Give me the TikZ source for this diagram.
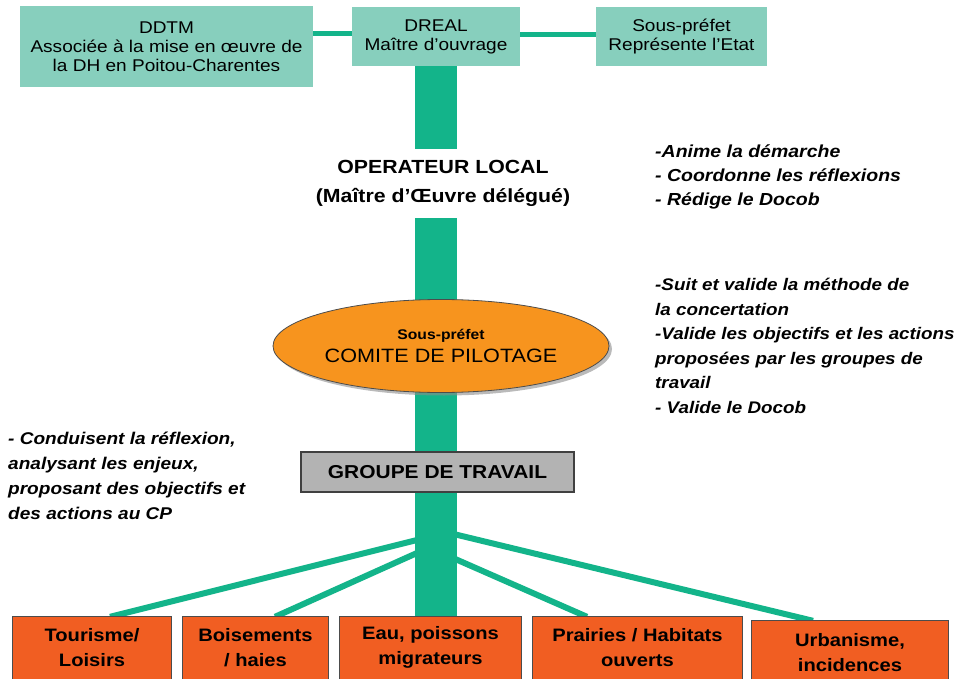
\documentclass[tikz,border=0pt]{standalone}
\usepackage{fontspec}
\setmainfont{Liberation Sans}[FakeStretch=1.12]
\usetikzlibrary{shapes.geometric,shadows}
\pgfdeclarelayer{bg}
\pgfsetlayers{bg,main}
\definecolor{tealbox}{HTML}{87CFBD}
\definecolor{linkgreen}{HTML}{13B48A}
\definecolor{ellorange}{HTML}{F7941E}
\definecolor{boxorange}{HTML}{F15E22}
\definecolor{groupgray}{HTML}{B3B3B3}
\begin{document}
\begin{tikzpicture}[x=1pt,y=-1pt,
  topbox/.style={fill=tealbox, inner sep=0pt, align=center, font=\fontsize{17}{19}\selectfont},
  link/.style={draw=linkgreen, line width=5pt},
  trunkline/.style={draw=linkgreen, line width=42pt},
  branch/.style={draw=linkgreen, line width=6pt},
  obox/.style={fill=boxorange, inner sep=0pt, minimum height=73pt},
  oborder/.style={draw=black!70, line width=1.2pt},
  otext/.style={align=center, font=\fontsize{18}{25}\selectfont\bfseries, inner sep=0pt},
  note/.style={align=left, font=\fontsize{16.8}{24.5}\selectfont\bfseries\itshape, inner sep=0pt, anchor=base west},
]
\path[use as bounding box] (0,0) rectangle (961,679);
\clip (0,0) rectangle (961,679);

% top boxes
\node[topbox, minimum width=293pt, minimum height=81pt] (ddtm) at (166.5,46.5) {DDTM\\Associée à la mise en œuvre de\\la DH en Poitou-Charentes};
\node[topbox, minimum width=168pt, minimum height=59pt] (dreal) at (436,36.5) {DREAL\\Maître d’ouvrage};
\node[topbox, minimum width=171pt, minimum height=59pt] (sp) at (681.5,36.5) {Sous-préfet\\Représente l’Etat};

% operateur
\node[fill=white, inner sep=0pt, minimum height=69pt, minimum width=240pt, align=center, font=\fontsize{19}{29}\selectfont\bfseries] (oper) at (443,183.5) {OPERATEUR LOCAL\\(Maître d’Œuvre délégué)};

% comite
\node[ellipse, fill=ellorange, draw=black!70, line width=0.8pt, minimum width=336pt, minimum height=93pt, inner sep=0pt, align=center, font=\fontsize{19.3}{23}\selectfont, drop shadow={shadow xshift=3pt, shadow yshift=-3pt, fill=black!45, opacity=0.6}] (copil) at (441,346) {{\fontsize{14}{16}\selectfont\bfseries Sous-préfet}\\COMITE DE PILOTAGE};

% groupe
\node[fill=groupgray, draw=black!75, line width=1.2pt, minimum width=273pt, minimum height=40pt, inner sep=0pt, font=\fontsize{18.7}{20}\selectfont\bfseries] (gt) at (437.5,472) {GROUPE DE TRAVAIL};

% bottom boxes
\node[obox, minimum width=158pt] (tour) at (92,653.5) {};
\node[obox, minimum width=145pt] (bois) at (255.5,653.5) {};
\node[obox, minimum width=181pt] (eau) at (430.5,653.5) {};
\node[obox, minimum width=209pt] (prai) at (637.5,653.5) {};
\node[obox, minimum width=196pt] (urba) at (850,657.5) {};
\foreach \b in {tour,bois,eau,prai,urba}{
  \draw[oborder] (\b.south west) -- (\b.north west) -- (\b.north east) -- (\b.south east);
}
\node[otext] (tourT) at ([yshift=6]tour.center) {Tourisme/\\Loisirs};
\node[otext] (boisT) at ([yshift=6]bois.center) {Boisements\\/ haies};
\node[otext] (eauT) at ([yshift=6]eau.center) {Eau, poissons\\migrateurs};
\node[otext] (praiT) at ([yshift=6]prai.center) {Prairies / Habitats\\ouverts};
\node[otext] (urbaT) at ([yshift=4.5]urba.center) {Urbanisme,\\incidences};

% notes (anchor = baseline of last line)
\node[note, font=\fontsize{17.4}{24}\selectfont\bfseries\itshape] (n1) at (655,206) {-Anime la démarche\\- Coordonne les réflexions\\- Rédige le Docob};
\node[note] (n2) at (655,413) {-Suit et valide la méthode de\\la concertation\\-Valide les objectifs et les actions\\proposées par les groupes de\\travail\\- Valide le Docob};
\node[note, font=\fontsize{17}{25}\selectfont\bfseries\itshape] (n3) at (8,519) {- Conduisent la réflexion,\\analysant les enjeux,\\proposant des objectifs et\\des actions au CP};

% connectors
\begin{pgfonlayer}{bg}
\draw[link] ([yshift=13]ddtm.east) -- ([yshift=13]ddtm.east -| dreal.west);
\draw[link] ([yshift=2]dreal.east) -- ([yshift=2]sp.west);
\coordinate (jt) at (437,535);
\coordinate (jb) at (437,544);
\coordinate (jp) at (437,551);
\coordinate (ju) at (437,530);
\draw[branch] (jt) -- ([xshift=18]tour.north);
\draw[branch] (jb) -- ([xshift=19.5]bois.north);
\draw[branch] (jp) -- ([xshift=-50.5]prai.north);
\draw[branch] (ju) -- ([xshift=-37]urba.north);
\draw[trunkline] (dreal.south) -- (eau.north -| dreal.south);
\end{pgfonlayer}
\end{tikzpicture}
\end{document}
